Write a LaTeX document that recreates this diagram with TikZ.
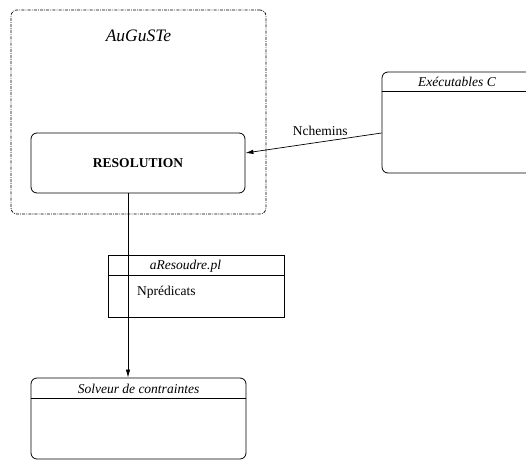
\documentclass[tikz,border=0pt]{standalone}
\usepackage{fontspec}
\setmainfont{Liberation Serif}
\usetikzlibrary{arrows.meta}

\tikzset{
  boite/.style={draw=black, line width=0.8pt, rounded corners=6pt, inner sep=0pt},
  titre/.style={font=\fontsize{13.5}{16}\selectfont\itshape, inner sep=1pt},
  texte/.style={font=\fontsize{13.5}{16}\selectfont, inner sep=1pt},
  fleche/.style={line width=0.7pt, -{Latex[length=8pt, width=4.5pt]}}
}

\begin{document}
\begin{tikzpicture}[x=1pt,y=-1pt]
\clip (0,0) rectangle (526,460);
\node[boite, dash pattern=on 3pt off 1.2pt on 0.8pt off 1.2pt, line width=0.7pt,
      minimum width=255pt, minimum height=204pt] (auguste) at (138.5,112) {};
\node[titre, font=\fontsize{17.5}{20}\selectfont\itshape] (nomauguste) at (138.5,36) {AuGuSTe};
\node[boite, minimum width=214pt, minimum height=60pt,
      font=\fontsize{13.5}{16}\selectfont\bfseries] (resolution) at (138,163) {RESOLUTION};
% executables
\node[boite, minimum width=152pt, minimum height=101pt] (exec) at (458,122.5) {};
\draw[line width=0.8pt] ([yshift=-20pt]exec.north west) -- ([yshift=-20pt]exec.north east);
\node[titre] (nomexec) at (457,82) {Exécutables C};
% fichier prolog
\node[draw=black, line width=0.7pt, minimum width=176pt, minimum height=62pt, inner sep=0pt] (ares) at (196,286) {};
\draw[line width=0.7pt] ([yshift=-21pt]ares.north west) -- ([yshift=-21pt]ares.north east);
\node[titre] (nomares) at (185.5,266) {aResoudre.pl};
\node[texte, anchor=west] (npred) at (136,292) {Nprédicats};
% solveur
\node[boite, minimum width=215pt, minimum height=81pt] (solveur) at (138.5,418.5) {};
\draw[line width=0.8pt] ([yshift=-21pt]solveur.north west) -- ([yshift=-21pt]solveur.north east);
\node[titre] (nomsolveur) at (138.5,389) {Solveur de contraintes};
% liens
\draw[fleche] ([yshift=-10.5pt]exec.west) -- node[texte, pos=0.45, above=5pt] {Nchemins} ([yshift=10pt]resolution.east);
\draw[fleche] ([xshift=-10pt]resolution.south) -- ([xshift=-10.5pt]solveur.north);
\end{tikzpicture}
\end{document}
